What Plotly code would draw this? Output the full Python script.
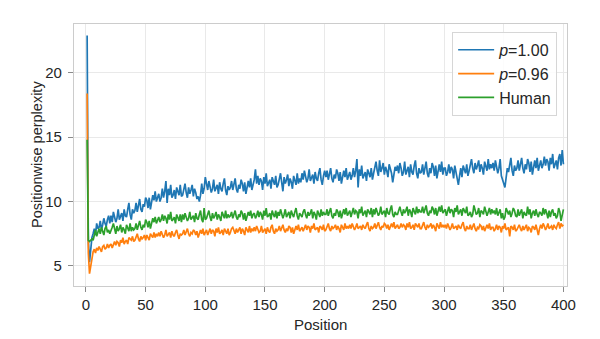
import plotly.graph_objects as go

# Per-position perplexity for generated text (nucleus p=1.00 and p=0.96) and human text
positions = list(range(1, 401))

ppl_p100 = [
    22.9, 7.0, 5.3, 6.3, 7.2, 7.5, 7.9, 7.4, 8.3, 7.9, 8.0, 8.5, 7.8, 8.2, 8.7, 8.3, 8.1, 8.6, 8.9, 8.3,
    8.9, 8.4, 9.2, 8.8, 8.4, 8.7, 9.4, 8.6, 8.9, 9.1, 8.5, 9.4, 8.9, 8.8, 9.4, 9.9, 9.0, 8.6, 9.4, 9.1,
    9.3, 9.9, 9.2, 9.7, 10.2, 9.4, 9.2, 9.8, 9.6, 10.3, 10.1, 9.5, 10.3, 9.4, 10.1, 10.5, 10.1, 10.8, 10.0, 10.4,
    10.6, 10.0, 10.3, 11.0, 10.3, 10.8, 11.6, 9.9, 11.0, 10.5, 11.3, 10.3, 10.5, 10.9, 10.2, 11.1, 10.8, 10.5, 11.3, 10.4,
    10.5, 11.0, 11.4, 10.7, 10.3, 11.1, 10.6, 10.9, 11.3, 10.4, 11.0, 10.7, 10.2, 10.4, 10.0, 10.5, 11.4, 10.6, 11.0, 11.9,
    11.4, 10.9, 11.6, 11.2, 10.7, 11.0, 11.7, 10.8, 11.1, 11.3, 10.6, 11.5, 11.0, 10.8, 11.4, 11.8, 10.9, 10.5, 11.2, 10.9,
    11.1, 11.6, 10.9, 11.4, 11.8, 11.0, 10.7, 11.3, 11.0, 11.7, 11.4, 10.8, 11.5, 10.6, 11.2, 11.6, 11.1, 11.8, 10.9, 11.3,
    11.7, 12.5, 11.4, 12.0, 11.3, 11.8, 11.6, 10.9, 11.9, 11.4, 12.2, 11.2, 11.4, 11.7, 11.0, 11.9, 11.6, 11.3, 12.0, 11.1,
    11.3, 11.8, 12.2, 11.5, 10.8, 11.9, 11.4, 11.7, 12.1, 11.2, 11.8, 11.5, 11.0, 12.0, 11.7, 11.3, 12.2, 11.4, 11.8, 11.5,
    12.2, 11.7, 12.4, 12.0, 11.5, 11.8, 12.5, 11.6, 11.9, 12.1, 11.4, 12.3, 11.8, 11.6, 12.2, 12.6, 11.7, 11.3, 12.0, 12.4,
    11.9, 12.4, 11.7, 12.2, 12.6, 11.8, 11.5, 12.1, 11.8, 12.5, 12.2, 11.6, 12.3, 11.4, 12.0, 12.4, 11.9, 12.6, 11.7, 12.1,
    12.3, 11.7, 12.0, 12.6, 11.9, 12.4, 13.3, 11.1, 12.5, 12.0, 12.8, 11.8, 12.0, 12.3, 11.6, 12.5, 12.2, 11.9, 12.6, 11.7,
    12.2, 12.7, 13.1, 12.4, 12.0, 13.2, 12.3, 12.6, 13.0, 12.1, 12.7, 12.4, 11.9, 12.9, 12.6, 12.2, 11.5, 12.3, 12.7, 12.4,
    12.8, 12.2, 13.0, 12.6, 12.0, 12.3, 13.1, 12.1, 12.5, 12.7, 11.9, 12.9, 12.3, 12.1, 12.8, 13.2, 12.2, 11.8, 12.6, 12.2,
    12.3, 12.9, 12.1, 12.7, 13.1, 12.2, 11.9, 12.6, 12.2, 13.0, 12.7, 12.0, 12.8, 11.8, 12.4, 12.9, 12.3, 13.1, 12.1, 12.6,
    12.6, 12.0, 12.3, 12.9, 12.2, 12.7, 12.5, 11.8, 12.8, 12.3, 11.7, 11.3, 12.0, 12.6, 11.9, 12.8, 12.5, 12.2, 12.9, 12.0,
    12.4, 12.9, 13.3, 12.6, 12.2, 13.0, 12.5, 12.8, 13.2, 12.3, 12.9, 12.6, 12.1, 13.1, 12.8, 12.4, 13.3, 12.5, 12.9, 12.6,
    13.0, 12.4, 13.2, 12.8, 12.2, 12.6, 13.3, 12.0, 11.6, 11.4, 11.1, 12.0, 12.6, 12.3, 13.0, 13.4, 12.4, 12.0, 12.8, 12.4,
    12.6, 13.2, 12.4, 13.0, 13.4, 12.6, 12.2, 12.9, 12.5, 13.3, 13.0, 12.3, 13.1, 12.1, 12.8, 13.2, 12.6, 13.4, 12.4, 12.9,
    13.2, 12.6, 12.9, 13.5, 12.8, 13.3, 13.1, 12.4, 13.4, 12.9, 13.7, 12.6, 12.9, 13.2, 12.5, 13.4, 13.7, 12.8, 14.0, 12.9,
]

ppl_p096 = [
    18.4, 6.0, 4.4, 5.1, 5.7, 6.1, 6.3, 6.0, 6.4, 6.2, 6.5, 6.3, 6.1, 6.5, 6.6, 6.3, 6.4, 6.7, 6.4, 6.6,
    6.7, 6.4, 6.6, 6.9, 6.6, 6.9, 6.8, 6.5, 7.0, 6.8, 7.2, 6.7, 6.9, 7.0, 6.7, 7.2, 7.1, 7.0, 7.3, 6.9,
    7.0, 7.3, 7.5, 7.1, 6.9, 7.3, 7.1, 7.2, 7.4, 7.0, 7.4, 7.2, 7.0, 7.5, 7.3, 7.2, 7.6, 7.2, 7.5, 7.3,
    7.6, 7.3, 7.7, 7.5, 7.2, 7.4, 7.8, 7.3, 7.5, 7.6, 7.2, 7.7, 7.4, 7.3, 7.6, 7.8, 7.4, 7.1, 7.5, 7.4,
    7.5, 7.8, 7.4, 7.7, 7.9, 7.5, 7.3, 7.6, 7.5, 7.8, 7.7, 7.4, 7.7, 7.2, 7.6, 7.8, 7.5, 7.9, 7.4, 7.6,
    7.8, 7.4, 7.6, 7.9, 7.5, 7.8, 7.7, 7.3, 7.9, 7.6, 8.0, 7.5, 7.6, 7.8, 7.4, 7.9, 7.7, 7.5, 7.9, 7.4,
    7.6, 7.9, 8.0, 7.7, 7.5, 7.9, 7.6, 7.8, 8.0, 7.5, 7.9, 7.7, 7.4, 8.0, 7.8, 7.6, 8.1, 7.6, 7.9, 7.7,
    8.0, 7.7, 8.1, 7.9, 7.6, 7.7, 8.1, 7.6, 7.8, 7.9, 7.5, 8.0, 7.7, 7.6, 8.0, 8.2, 7.7, 7.5, 7.9, 7.7,
    7.8, 8.1, 7.7, 8.0, 8.2, 7.8, 7.6, 7.9, 7.7, 8.1, 8.0, 7.6, 8.0, 7.5, 7.9, 8.1, 7.8, 8.2, 7.7, 7.9,
    8.0, 7.7, 7.9, 8.2, 7.8, 8.1, 8.0, 7.6, 8.1, 7.9, 8.3, 7.8, 7.9, 8.0, 7.6, 8.1, 8.0, 7.8, 8.2, 7.7,
    7.8, 8.1, 8.3, 7.9, 7.7, 8.1, 7.9, 8.0, 8.2, 7.8, 8.1, 7.9, 7.6, 8.2, 8.0, 7.8, 8.3, 7.9, 8.1, 7.9,
    8.2, 7.9, 8.3, 8.1, 7.8, 8.0, 8.3, 7.9, 8.0, 8.1, 7.8, 8.2, 8.0, 7.9, 8.2, 8.4, 7.9, 7.7, 8.1, 7.9,
    8.0, 8.3, 7.9, 8.2, 8.4, 8.0, 7.8, 8.1, 8.0, 8.3, 8.2, 7.9, 8.2, 7.8, 8.1, 8.3, 8.0, 8.4, 7.9, 8.1,
    8.2, 7.9, 8.0, 8.3, 8.0, 8.2, 8.1, 7.8, 8.3, 8.0, 8.4, 7.9, 8.0, 8.2, 7.8, 8.3, 8.1, 8.0, 8.3, 7.9,
    7.9, 8.2, 8.4, 8.0, 7.8, 8.2, 8.0, 8.1, 8.3, 7.9, 8.2, 8.0, 7.7, 8.3, 8.1, 7.9, 8.4, 8.0, 8.2, 8.0,
    8.2, 7.9, 8.3, 8.1, 7.8, 8.0, 8.3, 7.9, 8.0, 8.1, 7.8, 8.2, 8.0, 7.9, 8.2, 8.4, 7.9, 7.7, 8.1, 7.9,
    7.9, 8.2, 7.8, 8.1, 8.3, 7.9, 7.7, 8.0, 7.9, 8.2, 8.1, 7.8, 8.1, 7.7, 8.0, 8.2, 7.9, 8.3, 7.8, 8.0,
    8.0, 7.7, 7.9, 8.2, 7.8, 8.1, 8.0, 7.6, 8.1, 7.9, 8.3, 7.8, 7.9, 8.0, 7.3, 8.1, 8.0, 7.8, 8.2, 7.7,
    7.8, 8.0, 8.2, 7.9, 7.7, 8.1, 7.8, 8.0, 8.2, 7.7, 8.0, 7.9, 7.6, 8.1, 8.0, 7.8, 8.2, 7.8, 7.4, 7.9,
    8.2, 7.9, 8.3, 8.1, 7.8, 8.0, 8.3, 7.9, 8.0, 8.1, 7.8, 8.2, 8.0, 7.9, 8.2, 8.4, 7.9, 8.3, 8.1, 8.2,
]

ppl_human = [
    14.8, 7.0, 6.9, 7.0, 7.1, 7.0, 7.5, 7.8, 7.3, 7.6, 7.9, 7.5, 8.0, 7.7, 7.4, 7.9, 8.1, 7.6, 7.8, 7.5,
    7.7, 8.0, 8.3, 7.8, 7.5, 8.1, 7.7, 7.9, 8.2, 7.6, 8.0, 7.8, 7.5, 8.2, 7.9, 7.7, 8.3, 7.7, 8.0, 7.8,
    7.9, 8.3, 7.8, 8.2, 8.5, 8.0, 7.8, 8.2, 8.0, 8.6, 8.4, 8.0, 8.5, 7.9, 8.4, 8.7, 8.4, 8.8, 8.3, 8.6,
    8.8, 8.4, 8.6, 9.0, 8.5, 8.9, 8.7, 8.3, 9.0, 8.6, 9.2, 8.5, 8.6, 8.8, 8.3, 9.0, 8.7, 8.5, 9.0, 8.4,
    9.0, 8.6, 9.1, 8.8, 8.5, 8.7, 9.2, 8.6, 8.8, 8.9, 8.4, 9.1, 8.7, 8.6, 9.0, 9.3, 8.6, 8.4, 9.5, 8.6,
    8.7, 9.0, 9.3, 8.8, 8.5, 9.1, 8.7, 8.9, 9.2, 8.6, 9.0, 8.8, 8.5, 9.2, 8.9, 8.7, 9.3, 8.7, 9.0, 8.8,
    8.9, 9.2, 8.7, 9.1, 9.3, 8.8, 8.6, 9.0, 8.8, 9.3, 9.1, 8.6, 9.1, 8.5, 8.9, 9.2, 8.9, 9.3, 8.7, 9.0,
    9.1, 8.7, 8.9, 9.3, 8.8, 9.2, 9.0, 8.6, 9.3, 8.9, 9.5, 8.8, 8.9, 9.1, 8.6, 9.3, 9.0, 8.8, 9.3, 8.7,
    9.2, 8.9, 9.4, 9.1, 8.7, 9.0, 9.4, 8.8, 9.0, 9.2, 8.7, 9.3, 9.0, 8.8, 9.2, 9.5, 8.9, 8.6, 9.1, 8.9,
    8.8, 9.2, 9.4, 9.0, 8.7, 9.2, 8.9, 9.1, 9.4, 8.7, 9.2, 9.0, 8.6, 9.3, 9.1, 8.8, 9.4, 8.9, 9.2, 9.0,
    9.0, 9.4, 8.9, 9.2, 9.5, 8.9, 8.7, 9.1, 8.9, 9.4, 9.2, 8.8, 9.3, 8.7, 9.1, 9.4, 9.0, 9.5, 8.9, 9.1,
    9.3, 8.8, 9.1, 9.5, 9.0, 9.3, 9.2, 8.7, 9.4, 9.1, 9.6, 8.9, 9.1, 9.3, 8.8, 9.4, 9.2, 9.0, 9.5, 8.8,
    9.4, 9.0, 9.5, 9.2, 8.9, 9.1, 9.6, 9.0, 9.2, 9.3, 8.8, 9.5, 9.1, 9.0, 9.4, 9.7, 9.0, 8.8, 9.2, 9.0,
    9.0, 9.4, 9.6, 9.2, 8.9, 9.4, 9.1, 9.3, 9.6, 8.9, 9.4, 9.2, 8.8, 9.5, 9.3, 9.0, 9.6, 9.1, 9.4, 9.2,
    9.2, 9.6, 9.1, 9.4, 9.7, 9.1, 8.9, 9.3, 9.1, 9.6, 9.4, 9.0, 9.5, 8.9, 9.3, 9.6, 9.2, 9.7, 9.1, 9.3,
    9.4, 8.9, 9.2, 9.6, 9.1, 9.4, 9.3, 8.8, 9.5, 9.2, 9.7, 9.0, 9.2, 9.4, 8.9, 9.5, 9.3, 9.1, 9.6, 8.9,
    9.0, 9.2, 8.8, 9.0, 9.7, 9.4, 9.0, 9.1, 9.5, 8.8, 9.3, 9.2, 9.0, 9.6, 9.1, 8.9, 9.2, 9.5, 9.0, 9.4,
    9.1, 9.3, 9.0, 9.5, 8.9, 9.2, 9.4, 8.7, 9.1, 8.6, 8.8, 9.5, 9.2, 9.0, 9.3, 8.8, 9.1, 9.5, 9.3, 8.9,
    8.8, 9.4, 8.9, 9.1, 9.4, 8.7, 9.2, 9.0, 8.9, 9.6, 9.0, 9.4, 8.7, 9.1, 9.3, 8.9, 9.4, 9.0, 8.8, 9.2,
    9.1, 8.9, 9.5, 9.0, 9.4, 9.1, 8.7, 9.3, 8.8, 9.2, 9.4, 8.9, 9.1, 8.7, 8.9, 9.5, 9.2, 8.5, 9.1, 9.4,
]

series_names = ["<i>p</i>=1.00", "<i>p</i>=0.96", "Human"]
series_values = [ppl_p100, ppl_p096, ppl_human]
series_colors = ["#1f77b4", "#ff7f0e", "#2ca02c"]

x_ticks = [0, 50, 100, 150, 200, 250, 300, 350, 400]
y_ticks = [5, 10, 15, 20]

FONT = "Liberation Sans, Arial, sans-serif"
TEXT = "#262626"
EDGE = "#cccccc"
GRID = "#e9e9e9"

fig = go.Figure()
for name, vals, color in zip(series_names, series_values, series_colors):
    fig.add_trace(go.Scatter(
        x=positions[:len(vals)], y=vals, mode="lines", name=name,
        line=dict(color=color, width=1.7),
    ))

axis_common = dict(
    showline=True, mirror=True, linecolor=EDGE, linewidth=1.2,
    showgrid=True, gridcolor=GRID, gridwidth=1,
    zeroline=False, ticks="outside", ticklen=5, tickcolor="#8a8a8a", tickwidth=1,
    tickfont=dict(family=FONT, size=15, color=TEXT),
)

fig.update_xaxes(range=[-10, 403], tickvals=x_ticks, **axis_common)
fig.update_yaxes(range=[3.44, 23.8], tickvals=y_ticks, ticklabelstandoff=3, **axis_common)

fig.update_layout(
    width=600, height=339,
    margin=dict(l=74, r=33, t=24, b=53),
    paper_bgcolor="#ffffff", plot_bgcolor="#ffffff",
    font=dict(family=FONT, size=15, color=TEXT),
    showlegend=True,
    legend=dict(
        x=0.98, y=0.97, xanchor="right", yanchor="top",
        bgcolor="rgba(255,255,255,0.85)", bordercolor="#d6d6d6", borderwidth=1,
        font=dict(family=FONT, size=16, color=TEXT),
        tracegroupgap=0, itemwidth=36,
    ),
    annotations=[
        dict(text="Position", xref="paper", yref="paper", x=0.5, y=-0.146,
             xanchor="center", yanchor="middle", showarrow=False,
             font=dict(family=FONT, size=15, color=TEXT)),
        dict(text="Positionwise perplexity", xref="paper", yref="paper",
             x=-0.075, y=0.5, xanchor="center", yanchor="middle",
             textangle=-90, showarrow=False,
             font=dict(family=FONT, size=14.5, color=TEXT)),
    ],
)

fig.write_html("out.html")
